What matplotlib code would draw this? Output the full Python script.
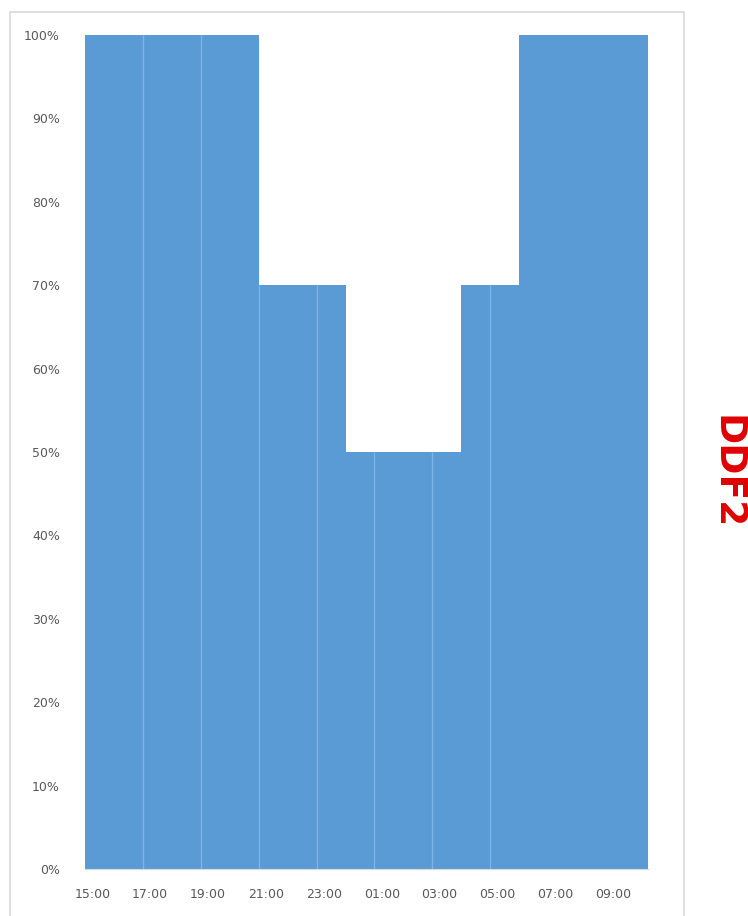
import numpy as np
import matplotlib
matplotlib.use('Agg')
import matplotlib.pyplot as plt
from matplotlib.patches import Rectangle

# hourly share from 15:00 to 09:00 (last block runs a little past 10:00)
hour_edges = [0, 1, 2, 3, 4, 5, 6, 7, 8, 9, 10, 11, 12, 13, 14, 15, 16, 17, 18, 19.45]
share = [100, 100, 100, 100, 100, 100, 70, 70, 70, 50, 50, 50, 50, 70, 70, 100, 100, 100, 100]
tick_labels = ['15:00', '17:00', '19:00', '21:00', '23:00', '01:00', '03:00', '05:00', '07:00', '09:00']
divider_hours = [2, 4, 6, 8, 10, 12, 14]

fig = plt.figure(figsize=(7.48, 9.16), dpi=100)
ax = fig.add_axes([85/748, 47/916, 563/748, 834/916])

edges = np.array(hour_edges)
vals = np.array(share) / 100.0
ax.bar(edges[:-1], vals, width=np.diff(edges), align='edge', color='#5b9bd5', linewidth=0)

# faint light lines between the 2-hour blocks
ax.vlines(divider_hours, 0, vals[divider_hours], colors='#7db3e6', linewidth=0.9)

ax.set_xlim(0, edges[-1])
ax.set_ylim(0, 1.0)
ax.set_yticks(np.arange(0, 1.01, 0.1))
ax.set_yticklabels(['%d%%' % round(v*100) for v in np.arange(0, 1.01, 0.1)])
ax.set_xticks(np.arange(len(tick_labels))*2 + 0.25)
ax.set_xticklabels(tick_labels)
ax.tick_params(axis='both', length=0, labelsize=9, colors='#595959')
ax.tick_params(axis='y', pad=18)
ax.tick_params(axis='x', pad=14)
for s in ['top', 'right', 'left']:
    ax.spines[s].set_visible(False)
ax.spines['bottom'].set_color('#d9d9d9')

# chart frame
fig.patches.append(Rectangle((10/748, -0.05), 674/748, 0.05 + 904/916,
                             transform=fig.transFigure, fill=False,
                             edgecolor='#d9d9d9', linewidth=1.2))

fig.text(726/748, 1 - 472/916, 'DDF2', rotation=-90, color='#e00000',
         fontsize=27, fontweight='bold', family='DejaVu Sans',
         ha='center', va='center')

fig.savefig('out.png', dpi=100)
